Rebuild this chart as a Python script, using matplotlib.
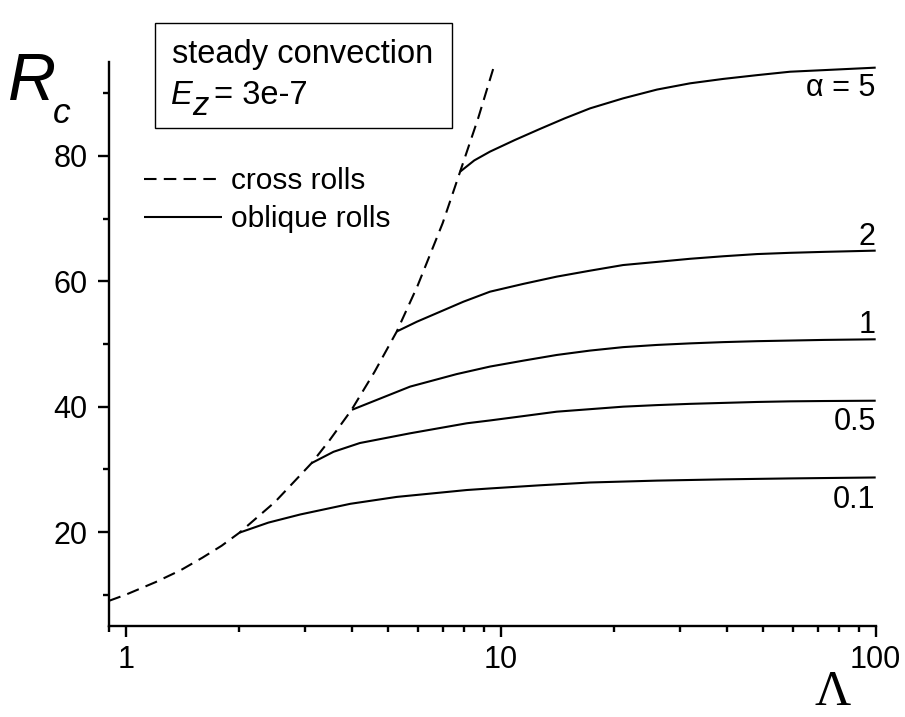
import numpy as np
import matplotlib.pyplot as plt
from matplotlib.patches import Rectangle
from matplotlib.ticker import LogLocator, NullFormatter, MultipleLocator

# critical Rayleigh number vs Lambda
lam_cross = [0.9, 1.0, 1.2, 1.4, 1.6, 1.8, 2.01, 2.5, 3.13, 3.5, 4.0, 4.6, 5.28, 6.0, 7.0, 7.79, 8.7, 9.6]
rc_cross = [9.0, 10.0, 12.0, 13.9, 15.9, 17.8, 19.9, 24.8, 31.0, 34.7, 39.5, 45.5, 52.0, 59.3, 69.3, 77.5, 86.0, 94.4]

lam_a5 = [7.79, 8.5, 9.36, 10.9, 12.7, 14.8, 17.3, 21.2, 26.1, 32.0, 39.2, 48.2, 59.1, 72.5, 100]
rc_a5 = [77.5, 79.3, 80.7, 82.55, 84.3, 86.0, 87.6, 89.2, 90.6, 91.6, 92.3, 92.9, 93.45, 93.7, 94.1]

lam_a2 = [5.28, 5.97, 6.89, 7.95, 9.36, 11.5, 14.1, 17.3, 21.2, 26.1, 32.0, 39.2, 48.2, 59.1, 72.5, 100]
rc_a2 = [52.0, 53.55, 55.15, 56.75, 58.35, 59.6, 60.75, 61.7, 62.6, 63.1, 63.6, 64.0, 64.35, 64.55, 64.7, 64.9]

lam_a1 = [4.01, 4.77, 5.73, 7.63, 9.36, 11.5, 14.1, 17.3, 21.2, 26.1, 32.0, 39.2, 48.2, 59.1, 72.5, 100]
rc_a1 = [39.5, 41.3, 43.2, 45.2, 46.4, 47.35, 48.25, 48.95, 49.5, 49.85, 50.1, 50.3, 50.45, 50.55, 50.65, 50.75]

lam_a05 = [3.13, 3.58, 4.21, 5.73, 8.12, 9.36, 11.5, 14.1, 17.3, 21.2, 26.1, 32.0, 39.2, 48.2, 59.1, 72.5, 100]
rc_a05 = [31.0, 32.8, 34.2, 35.75, 37.35, 37.8, 38.5, 39.2, 39.6, 40.0, 40.25, 40.45, 40.6, 40.75, 40.85, 40.9, 40.95]

lam_a01 = [2.01, 2.4, 2.92, 3.97, 5.28, 8.12, 9.36, 12.7, 17.3, 26.1, 39.2, 59.1, 100]
rc_a01 = [19.9, 21.5, 22.8, 24.5, 25.6, 26.7, 26.95, 27.45, 27.9, 28.2, 28.4, 28.55, 28.7]

curve_labels = ['\u03b1 = 5', '2', '1', '0.5', '0.1']
label_y = [89.6, 65.8, 51.8, 36.3, 23.8]

plt.rcParams['font.family'] = ['Liberation Sans', 'DejaVu Sans']

W, H = 905, 717


def fx(px):
    return px / W


def fy(py):
    return 1 - py / H


fig = plt.figure(figsize=(W / 100, H / 100), dpi=100)
ax = fig.add_axes([fx(108.7), fy(626), 767 / W, 564 / H])

ax.set_xscale('log')
ax.set_xlim(0.9, 100)
ax.set_ylim(5, 95)

lw = 1.5
cross, = ax.plot(lam_cross, rc_cross, color='k', lw=lw, dashes=(6, 3.5))
oblique = None
for lam, rc in [(lam_a5, rc_a5), (lam_a2, rc_a2), (lam_a1, rc_a1),
                (lam_a05, rc_a05), (lam_a01, rc_a01)]:
    oblique, = ax.plot(lam, rc, color='k', lw=lw, solid_capstyle='butt')

for lab, y in zip(curve_labels, label_y):
    ax.text(100, y, lab, ha='right', va='baseline', fontsize=22)

# axes styling
for s in ['top', 'right']:
    ax.spines[s].set_visible(False)
for s in ['left', 'bottom']:
    ax.spines[s].set_linewidth(1.7)

ax.set_xticks([1, 10, 100])
ax.set_xticklabels(['1', '10', '100'])
ax.xaxis.set_minor_locator(LogLocator(base=10, subs=np.arange(2, 10)))
ax.xaxis.set_minor_formatter(NullFormatter())
ax.yaxis.set_major_locator(MultipleLocator(20))
ax.yaxis.set_minor_locator(MultipleLocator(10))
ax.set_yticks([20, 40, 60, 80])

ax.tick_params(which='major', direction='out', length=8, width=1.7, labelsize=22)
ax.tick_params(which='minor', direction='out', length=4.5, width=1.7)
ax.tick_params(axis='x', which='major', pad=6)
ax.tick_params(axis='y', which='major', pad=7)

# axis labels
fig.text(fx(8), fy(100), 'R', style='italic', fontsize=48, va='baseline')
fig.text(fx(53), fy(123), 'c', style='italic', fontsize=25.5, va='baseline')
fig.text(fx(833), 0.002, '\u039b', family=['Liberation Serif', 'DejaVu Serif'],
         fontsize=36, ha='center', va='bottom')

# info box
fig.add_artist(Rectangle((fx(155), fy(128)), 297 / W, 105 / H,
                         transform=fig.transFigure, fill=False, lw=1.0, ec='k'))
fig.text(fx(172), fy(63), 'steady convection', fontsize=23.5, va='baseline')
fig.text(fx(171), fy(103.5), 'E', style='italic', fontsize=23.5, va='baseline')
fig.text(fx(192), fy(115), 'z', style='italic', fontsize=23.5, va='baseline')
fig.text(fx(214), fy(103.5), '= 3e-7', fontsize=23.5, va='baseline')

ax.legend([cross, oblique], ['cross rolls', 'oblique rolls'], loc='upper left',
          bbox_to_anchor=(fx(144), fy(167)), bbox_transform=fig.transFigure,
          frameon=False, fontsize=21.5, handlelength=2.6, handletextpad=0.33,
          labelspacing=0.34, borderpad=0, borderaxespad=0)

fig.savefig('out.png', dpi=100)
